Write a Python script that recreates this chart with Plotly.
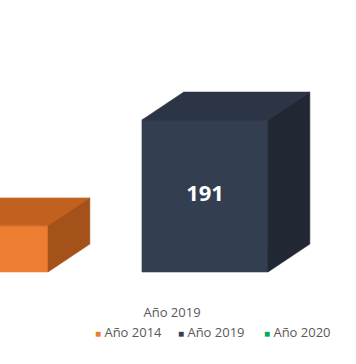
import plotly.graph_objects as go

# Data
series = ["Año 2014", "Año 2019", "Año 2020"]
values = [58, 191, 150]
category_label = "Año 2019"
front_colors = ["#ED7D31", "#333F50", "#00B050"]
top_colors = ["#C2601E", "#2B3545", "#00923F"]
side_colors = ["#A5521A", "#212834", "#007A35"]

# 3D style parameters (category units / value units)
bar_w = 0.573
depth_dx = 0.19
depth_dy = 35.0

legend_ids = ["legend", "legend2", "legend3"]
legend_px = [55, 138, 224]

fig = go.Figure()

for i, (name, v) in enumerate(zip(series, values)):
    c = i
    xl, xr = c - bar_w / 2, c + bar_w / 2
    # front face
    fig.add_trace(go.Scatter(x=[xl, xr, xr, xl, xl], y=[0, 0, v, v, 0], mode="lines",
                             fill="toself", fillcolor=front_colors[i],
                             line=dict(width=0.6, color=front_colors[i]),
                             showlegend=False, hoverinfo="skip"))
    # top face
    fig.add_trace(go.Scatter(x=[xl, xl + depth_dx, xr + depth_dx, xr, xl],
                             y=[v, v + depth_dy, v + depth_dy, v, v], mode="lines",
                             fill="toself", fillcolor=top_colors[i],
                             line=dict(width=0.6, color=top_colors[i]),
                             showlegend=False, hoverinfo="skip"))
    # side face
    fig.add_trace(go.Scatter(x=[xr, xr + depth_dx, xr + depth_dx, xr, xr],
                             y=[0, depth_dy, v + depth_dy, v, 0], mode="lines",
                             fill="toself", fillcolor=side_colors[i],
                             line=dict(width=0.6, color=side_colors[i]),
                             showlegend=False, hoverinfo="skip"))
    # value label
    fig.add_trace(go.Scatter(x=[c], y=[v / 2], mode="text", text=[str(v)],
                             textfont=dict(color="white", size=22, family="Open Sans", weight="bold"),
                             showlegend=False, hoverinfo="skip"))
    # legend entry (square drawn inside the text so it sits close to the label)
    fig.add_trace(go.Scatter(
        x=[None], y=[None], mode="markers", legend=legend_ids[i],
        name=f'<span style="color:{front_colors[i]};font-size:10px">■</span> {name}',
        marker=dict(symbol="square", size=1, color="rgba(0,0,0,0)")))

legend_style = dict(orientation="h", xanchor="left", y=-0.107, yanchor="middle",
                    font=dict(size=13, color="#595959"), bgcolor="rgba(0,0,0,0)")

fig.update_layout(
    width=356, height=364,
    margin=dict(l=0, r=0, t=0, b=64),
    plot_bgcolor="white", paper_bgcolor="white",
    font=dict(family="Open Sans", size=13, color="#595959"),
    xaxis=dict(range=[1 - 205 / 220, 1 + 151 / 220], showgrid=False, zeroline=False,
               showline=False, tickvals=[1 - 0.15], ticktext=[category_label],
               tickfont=dict(size=13, color="#595959"), ticklabelstandoff=3,
               fixedrange=True),
    yaxis=dict(range=[-35.2, 341.7], showgrid=False, zeroline=False, showline=False,
               showticklabels=False, fixedrange=True),
    showlegend=True,
)
for lid, px in zip(legend_ids, legend_px):
    fig.update_layout({lid: dict(legend_style, x=px / 356)})

fig.write_html("out.html", config={"displayModeBar": False},
               post_script="document.body.style.margin='0px';")
